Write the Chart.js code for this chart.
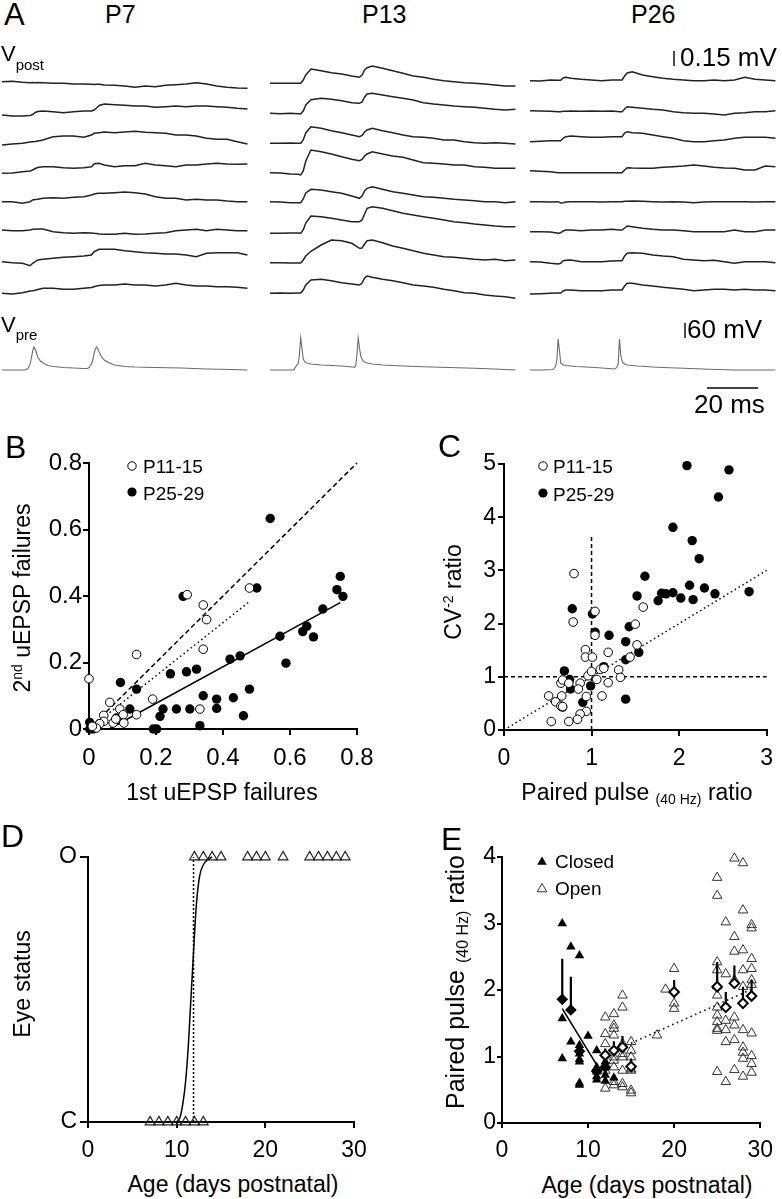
<!DOCTYPE html>
<html><head><meta charset="utf-8"><title>Synaptic development figure</title>
<script src="https://cdn.jsdelivr.net/npm/chart.js@4.4.1/dist/chart.umd.min.js"></script>
<style>
html,body{margin:0;padding:0;background:#fff}
#fig{position:relative;width:782px;height:1199px;overflow:hidden;font-family:"Liberation Sans",Arial,Helvetica,sans-serif;color:#000}
canvas{position:absolute}
.t{position:absolute;line-height:1;white-space:nowrap}
.ctr{transform:translateX(-50%)}
.rot{position:absolute;line-height:1;white-space:nowrap;transform:translate(-50%,-50%) rotate(-90deg)}
</style></head>
<body><div id="fig">
<canvas id="aP7" width="248" height="360" style="left:2px;top:40px"></canvas>
<canvas id="aP13" width="248" height="360" style="left:270px;top:40px"></canvas>
<canvas id="aP26" width="248" height="360" style="left:530px;top:40px"></canvas>
<canvas id="cB" width="390" height="340" style="left:0px;top:440px"></canvas>
<canvas id="cC" width="392" height="340" style="left:390px;top:440px"></canvas>
<canvas id="cD" width="390" height="340" style="left:0px;top:830px"></canvas>
<canvas id="cE" width="392" height="340" style="left:390px;top:830px"></canvas>

<div class="t" style="left:4px;top:-1px;font-size:31px">A</div>
<div class="t" style="left:105px;top:2px;font-size:25px">P7</div>
<div class="t" style="left:362px;top:2px;font-size:25px">P13</div>
<div class="t" style="left:631px;top:2px;font-size:25px">P26</div>
<div class="t" style="left:1px;top:43px;font-size:22px">V<span style="font-size:15px;position:relative;top:9px">post</span></div>
<div class="t" style="left:1px;top:314px;font-size:22px">V<span style="font-size:15px;position:relative;top:8px">pre</span></div>
<div class="t" style="left:680px;top:44px;font-size:26px">0.15 mV</div>
<div class="t" style="left:687px;top:316px;font-size:26px">60 mV</div>
<div class="t" style="left:694px;top:391px;font-size:26px">20 ms</div>

<div class="t" style="left:5px;top:431px;font-size:32px">B</div>
<div class="t" style="left:438px;top:430px;font-size:32px">C</div>
<div class="t" style="left:1px;top:820px;font-size:32px">D</div>
<div class="t" style="left:441px;top:823px;font-size:32px">E</div>

<svg class="t" style="left:126px;top:460px" width="12" height="12"><circle cx="6" cy="6" r="4.2" fill="#fff" stroke="#000" stroke-width="1"/></svg>
<div class="t" style="left:143px;top:457px;font-size:19px">P11-15</div>
<svg class="t" style="left:126px;top:486px" width="12" height="12"><circle cx="6" cy="6" r="4.6" fill="#000"/></svg>
<div class="t" style="left:143px;top:484px;font-size:19px">P25-29</div>

<svg class="t" style="left:537px;top:460px" width="12" height="12"><circle cx="6" cy="6" r="4.2" fill="#fff" stroke="#000" stroke-width="1"/></svg>
<div class="t" style="left:553px;top:457px;font-size:19px">P11-15</div>
<svg class="t" style="left:537px;top:487px" width="12" height="12"><circle cx="6" cy="6" r="4.6" fill="#000"/></svg>
<div class="t" style="left:553px;top:485px;font-size:19px">P25-29</div>

<svg class="t" style="left:535px;top:855px" width="14" height="14"><polygon points="7,1.5 2.2,9.8 11.8,9.8" fill="#000"/></svg>
<div class="t" style="left:555px;top:852px;font-size:19px">Closed</div>
<svg class="t" style="left:535px;top:882px" width="14" height="14"><polygon points="7,1.5 2.2,9.8 11.8,9.8" fill="none" stroke="#333" stroke-width="1"/></svg>
<div class="t" style="left:555px;top:879px;font-size:19px">Open</div>

<div class="t ctr" style="left:222px;top:781px;font-size:23px">1st uEPSP failures</div>
<div class="rot" style="left:22px;top:598px;font-size:23px">2<span style="font-size:14px;position:relative;top:-8px">nd</span> uEPSP failures</div>
<div class="t ctr" style="left:637px;top:781px;font-size:23px">Paired pulse <span style="font-size:14px;position:relative;top:4px">(40 Hz)</span> ratio</div>
<div class="rot" style="left:453px;top:592px;font-size:23px">CV<span style="font-size:14px;position:relative;top:-8px">-2</span> ratio</div>
<div class="t ctr" style="left:233px;top:1173px;font-size:23px">Age (days postnatal)</div>
<div class="rot" style="left:22px;top:984px;font-size:23px">Eye status</div>
<div class="t ctr" style="left:647px;top:1174px;font-size:23px">Age (days postnatal)</div>
<div class="rot" style="left:455px;top:982px;font-size:25px">Paired pulse <span style="font-size:16px;position:relative;top:4px">(40 Hz)</span> ratio</div>
</div>

<script>
// ---------------- Panel A: traces (Vpost in µV, Vpre in mV) ----------------
const timeMs = [0,4,8,11,12,13,14,16,20,24,28,32,35,36,37,38,40,44,48,52,56,60,64,68,72,76,80,84,88,92,96];
const p7Post = [
  [13,17,7,3,5,2,4,3,-3,-2,-10,-9,-12,-14,-13,-12,-20,-23,-30,-43,-30,-37,-23,-17,-10,3,-10,-30,-43,-50,-53],
  [-20,-30,-30,-25,-15,5,15,20,13,3,13,20,20,30,50,75,90,83,77,70,70,57,63,70,63,70,70,63,57,47,40],
  [-20,-10,-3,10,13,15,20,30,63,70,70,57,80,97,100,103,110,103,110,117,107,103,97,80,80,70,47,37,37,13,-10],
  [-3,0,13,20,30,45,55,63,63,53,47,53,63,90,95,97,80,63,73,73,97,80,73,63,80,80,90,97,90,87,90],
  [13,13,-3,13,30,35,37,47,53,47,57,63,80,90,95,97,97,103,110,103,90,63,47,47,30,37,30,30,20,13,13],
  [30,23,23,30,37,37,40,40,13,3,-3,3,0,-3,-5,-10,-13,-13,-3,-13,-10,-3,3,23,30,37,23,37,30,23,23],
  [13,3,-3,-27,-3,13,30,37,47,57,63,70,80,113,125,137,137,137,123,113,103,97,90,90,80,63,97,103,103,103,80],
  [-3,-10,3,20,23,27,35,47,47,37,37,47,55,63,70,75,80,80,90,80,80,70,80,97,80,70,70,63,63,57,47]
];
const p13Post = [
  [-3,-3,-3,-3,-3,30,80,140,123,103,90,70,57,80,130,153,170,147,123,97,70,57,37,23,13,3,-3,-10,-20,-30,-30],
  [-3,-7,-3,-7,-10,20,80,133,147,137,123,103,97,110,160,190,197,180,163,147,130,103,90,80,70,63,57,47,37,30,37],
  [-3,-3,0,-3,-3,30,100,163,147,123,103,80,63,75,110,130,147,123,103,80,63,57,47,30,30,13,3,-3,3,-3,-10],
  [3,0,-10,-13,-20,20,120,230,213,190,163,137,123,135,170,190,213,190,170,157,130,103,97,90,80,80,63,57,47,47,47],
  [13,10,3,3,3,40,100,137,130,113,97,70,47,70,120,147,163,137,113,97,80,63,57,47,37,30,23,13,13,3,13],
  [-3,-3,0,0,-3,30,100,170,163,147,130,113,113,130,190,247,263,247,223,197,180,163,147,130,113,103,90,80,70,63,63],
  [3,3,0,0,0,30,70,117,180,230,223,197,147,150,190,223,230,203,170,147,123,97,80,63,57,47,37,30,37,23,30],
  [-3,0,-3,0,0,30,80,130,137,123,103,90,80,100,150,170,157,137,123,103,80,70,57,37,23,3,-3,-20,-30,-37,-53]
];
const p26Post = [
  [23,20,30,27,27,50,57,47,37,30,23,30,30,30,70,100,113,80,63,47,37,30,23,23,30,23,30,57,37,30,23],
  [23,20,17,13,13,17,17,20,17,20,17,20,13,13,40,63,57,47,37,30,13,3,-3,-3,-10,-20,-3,3,13,13,23],
  [13,17,23,23,23,50,63,70,63,57,57,63,63,63,100,113,103,97,80,63,47,23,13,13,23,30,47,57,57,57,47],
  [23,17,13,3,3,3,3,3,3,3,3,3,3,3,30,53,50,47,47,57,63,70,80,70,57,50,47,30,30,70,63],
  [13,13,10,13,0,3,10,13,13,13,10,13,13,13,17,17,20,17,13,10,13,10,3,10,13,13,13,13,10,13,13],
  [13,13,10,-3,3,20,30,30,23,30,30,37,30,30,50,70,63,47,37,30,30,23,13,13,13,13,30,13,13,30,30],
  [13,10,-3,-10,-3,23,27,30,13,13,13,20,23,23,70,97,103,97,80,70,63,37,30,23,27,13,-3,13,13,13,3],
  [-10,-7,-3,0,0,20,30,30,23,23,23,30,30,30,70,97,97,80,70,57,47,37,23,30,37,37,30,37,30,30,23]
];
const vpreTime = [0,5,9,9.5,10,10.5,11,11.5,12,12.5,13,13.5,14,15,16,18,20,24,28,32,33,33.5,34,34.5,35,35.5,36,36.5,37,37.5,38,39,40,42,44,48,52,60,70,80,90,96];
const p7Pre  = [0,0,0,2,6,12,24,48,76,92,84,68,52,36,28,18,14,10,8,6,6,6,10,16,24,40,64,84,92,84,72,52,40,28,20,14,12,10,8,4,2,0];
const p13Pre = [0,0,0,4,12,20,24,60,128,88,44,34,30,26,24,22,20,18,16,12,11,16,60,128,88,56,44,36,32,30,28,26,24,22,20,18,16,13,10,7,3,0];
const p26Pre = [0,0,2,8,14,40,124,80,28,24,20,19,18,17,16,14,13,11,8,5,4,6,12,24,124,60,36,28,24,22,20,19,18,16,15,12,10,7,3,0,0,0];
const scaleBarPostUv = 150, scaleBarPreMv = 60, scaleBarMs = 20;

// ---------------- Panel B ----------------
const bTicks = [0,0.2,0.4,0.6,0.8];
const bTickLabels = ['0','0.2','0.4','0.6','0.8'];
const bYoungX = [0.00,0.142,0.19,0.293,0.341,0.351,0.341,0.331,0.479,0.062,0.092,0.102,0.142,0.104,0.072,0.044,0.044,0.032,0.022,0.08,0.01];
const bYoungY = [0.151,0.224,0.09,0.404,0.373,0.329,0.24,0.06,0.424,0.08,0.06,0.043,0.043,0.018,0.018,0.041,0.023,0.016,0.003,0.03,0.008];
const bOldX = [0.541,0.75,0.74,0.758,0.501,0.281,0.698,0.65,0.638,0.67,0.57,0.588,0.451,0.421,0.321,0.291,0.243,0.142,0.094,0.341,0.381,0.431,0.381,0.221,0.261,0.301,0.479,0.461,0.212,0.331,0.192,0.202,0.122,0.082,0.002,0.002,0.012];
const bOldY = [0.633,0.459,0.419,0.399,0.424,0.399,0.361,0.309,0.293,0.277,0.279,0.198,0.22,0.21,0.18,0.172,0.166,0.12,0.14,0.1,0.09,0.094,0.062,0.06,0.06,0.06,0.12,0.04,0.038,0.01,0,0,0.06,0.033,0.02,0,0];
const bUnityX = [0,0.8], bUnityY = [0,0.8];
const bYoungFitX = [0.03,0.48], bYoungFitY = [0.024,0.384];
const bOldFitX = [0.06,0.75], bOldFitY = [0.0,0.38];

// ---------------- Panel C ----------------
const cTicksX = [0,1,2,3], cTickLabelsX = ['0','1','2','3'];
const cTicksY = [0,1,2,3,4,5], cTickLabelsY = ['0','1','2','3','4','5'];
const cYoungX = [0.79,0.80,1.04,1.04,0.93,0.93,1.01,1.19,1.50,1.59,1.52,1.44,1.31,1.33,1.19,1.12,1.06,1.10,0.96,0.87,0.85,0.94,0.94,0.87,0.84,0.74,0.54,0.51,0.59,0.65,0.66,0.65,0.67,0.74,0.67,1.00,1.14];
const cYoungY = [2.03,2.94,2.23,1.78,1.51,1.37,1.37,1.46,1.99,2.31,1.60,1.37,1.13,0.99,0.89,0.64,0.95,1.14,1.02,0.88,0.77,0.63,0.35,0.30,0.20,0.16,0.16,0.64,0.53,0.45,0.64,0.88,0.94,0.88,0.44,1.10,1.16];
const cOldX = [2.09,2.57,2.45,1.93,2.15,2.23,1.61,1.52,1.76,1.80,1.85,1.93,2.02,2.12,2.16,2.29,2.41,2.80,0.78,1.01,1.04,1.20,1.43,1.39,1.54,1.39,1.14,1.39,0.99,0.90,0.69,0.75,0.76,0.67];
const cOldY = [4.97,4.89,4.38,3.81,3.56,3.22,2.89,2.52,2.43,2.57,2.56,2.58,2.48,2.72,2.45,2.67,2.56,2.60,2.28,2.18,1.84,1.78,1.94,1.66,1.46,1.32,1.19,0.58,0.83,0.52,1.11,0.95,0.77,0.43];
const cUnityX = [0,3], cUnityY = [0,3];
const cRefHX = [0,3], cRefHY = [1,1];
const cRefVX = [1,1], cRefVY = [0,3.68];

// ---------------- Panel D ----------------
const dTicksX = [0,10,20,30], dTickLabelsX = ['0','10','20','30'];
const dTicksY = [0,1], dTickLabelsY = ['C','O'];
const eyeOpenAge = [12,13,14,15,18,19,20,22,25,26,27,28,29];
const eyeClosedAge = [7,8,9,10,11,12,13];
const dFitX = [10,10.4,10.7,11.0,11.3,11.5,11.7,11.9,12.1,12.3,12.6,13.0,13.5,14.0];
const dFitY = [0,0.02,0.07,0.15,0.28,0.40,0.52,0.64,0.76,0.85,0.93,0.97,0.99,1.0];
const dOnsetX = [11.9,11.9], dOnsetY = [0,1];

// ---------------- Panel E ----------------
const eTicksX = [0,10,20,30], eTickLabelsX = ['0','10','20','30'];
const eTicksY = [0,1,2,3,4], eTickLabelsY = ['0','1','2','3','4'];
const eClosedAge = [7,7,7,8,8,9,9,9,9,9,9,9,9,10,11,11,11,11,11,12,12,12,12,12,13];
const eClosedVal = [3.0,1.57,0.97,2.65,1.22,2.52,1.17,1.1,1.04,0.96,0.92,0.6,0.57,1.31,1.09,0.84,0.77,0.7,0.65,1.03,0.92,0.84,0.72,0.63,0.68];
const eOpenAge = [12,12,12,12,12,13,13,13,13,13,13,13,13,13,14,14,14,14,14,14,14,14,15,15,15,15,15,15,15,18,19,20,20,20,
  25,25,25,25,25,25,25,25,25,25,25,25,26,26,26,26,26,26,27,27,27,27,27,27,27,27,28,28,28,28,28,28,28,28,28,28,29,29,29,29,29,29,29,29,29,29];
const eOpenVal = [1.59,1.34,1.19,0.79,0.52,1.64,1.47,1.42,1.32,0.99,0.94,0.84,0.62,0.57,1.92,1.74,1.19,1.04,0.99,0.79,0.59,0.54,1.22,1.09,0.99,0.81,0.79,0.49,0.45,1.32,2.01,2.32,1.80,1.72,
  3.69,3.42,2.42,2.30,2.06,1.92,1.74,1.62,1.52,1.42,1.39,0.77,3.02,2.24,1.54,1.40,1.22,0.62,3.98,2.80,2.58,2.15,1.59,1.47,1.25,0.80,3.91,3.20,2.60,2.30,2.05,1.40,1.14,1.06,0.97,0.70,2.98,2.93,2.47,2.32,2.15,2.08,1.35,1.01,0.89,0.76];
const eClosedMeanAge = [7,8,9,11,12];
const eClosedMeanVal = [1.86,1.70,1.08,0.78,0.84];
const eClosedMeanErr = [0.61,0.50,0.10,0.06,0.08];
const eOpenMeanAge = [12,13,14,15,20,25,26,27,28,29];
const eOpenMeanVal = [1.02,1.09,1.14,0.85,1.97,2.05,1.74,2.10,1.80,1.91];
const eOpenMeanErr = [0.10,0.14,0.17,0.12,0.18,0.37,0.23,0.27,0.25,0.24];
const eClosedFitX = [7,11.5], eClosedFitY = [1.72,0.77];
const eOpenFitX = [15,29], eOpenFitY = [1.2,2.01];

// ================= drawing =================
const FONT = '"Liberation Sans", Arial, Helvetica, sans-serif';
Chart.defaults.font.family = FONT;
Chart.defaults.color = '#000';
const zip = (xs, ys) => xs.map((x, i) => ({x: x, y: ys[i]}));

// --- Panel A layout (pixels per unit) ---
const A_H = 360;
const ROW_GAP_UV = 300;             // vertical offset between sweeps
const POST_PX_PER_UV = 0.1, POST_ROW0_PX = 43;
const PRE_PX_PER_MV = 0.25, PRE_BASE_PX = 330;
const POST_MAX = POST_ROW0_PX / POST_PX_PER_UV, POST_MIN = POST_MAX - A_H / POST_PX_PER_UV;
const PRE_MAX = PRE_BASE_PX / PRE_PX_PER_MV, PRE_MIN = PRE_MAX - A_H / PRE_PX_PER_MV;

const scaleBarPlugin = {
  id: 'scaleBars',
  afterDraw(chart) {
    const {ctx, scales} = chart;
    const x = scales.x, y = scales.y, y2 = scales.y2;
    ctx.save();
    ctx.strokeStyle = '#000'; ctx.lineWidth = 1.4;
    const lp = y.getPixelForValue(0) - y.getPixelForValue(scaleBarPostUv);
    ctx.beginPath(); ctx.moveTo(144, 26); ctx.lineTo(144, 26 - lp); ctx.stroke();
    const lq = y2.getPixelForValue(0) - y2.getPixelForValue(scaleBarPreMv);
    ctx.beginPath(); ctx.moveTo(155, 298); ctx.lineTo(155, 298 - lq); ctx.stroke();
    const lt = x.getPixelForValue(scaleBarMs) - x.getPixelForValue(0);
    ctx.beginPath(); ctx.moveTo(177, 348); ctx.lineTo(177 + lt, 348); ctx.stroke();
    ctx.restore();
  }
};

function traceChart(id, post, pre, bars) {
  const ds = post.map((arr, r) => ({
    data: timeMs.map((t, i) => ({x: t, y: arr[i] - r * ROW_GAP_UV})),
    yAxisID: 'y', showLine: true, pointRadius: 0, borderColor: '#222', borderWidth: 1.5, tension: 0, clip: false
  }));
  ds.push({
    data: zip(vpreTime, pre), yAxisID: 'y2', showLine: true, pointRadius: 0,
    borderColor: '#6b6b6b', borderWidth: 1.1, tension: 0, clip: false
  });
  return new Chart(document.getElementById(id), {
    type: 'scatter',
    data: {datasets: ds},
    options: {
      responsive: false, animation: false, devicePixelRatio: 1,
      layout: {padding: 0},
      plugins: {legend: {display: false}, tooltip: {enabled: false}},
      scales: {
        x: {type: 'linear', display: false, min: 0, max: 97},
        y: {type: 'linear', display: false, min: POST_MIN, max: POST_MAX},
        y2: {type: 'linear', display: false, min: PRE_MIN, max: PRE_MAX}
      }
    },
    plugins: bars ? [scaleBarPlugin] : []
  });
}
traceChart('aP7', p7Post, p7Pre, false);
traceChart('aP13', p13Post, p13Pre, false);
traceChart('aP26', p26Post, p26Pre, true);

function axisChart(id, o) {
  const tickFont = {family: FONT, size: o.fs};
  const gridOpt = tl => ({display: true, drawOnChartArea: false, drawTicks: true, tickLength: tl, color: '#000', lineWidth: 2});
  return new Chart(document.getElementById(id), {
    type: 'scatter',
    data: {datasets: o.datasets},
    options: {
      responsive: false, animation: false, devicePixelRatio: 1,
      layout: {padding: {top: o.padTop, right: o.padRight, left: 0, bottom: 0}},
      plugins: {legend: {display: false}, tooltip: {enabled: false}},
      scales: {
        x: {
          type: 'linear', min: o.xMin, max: o.xMax,
          afterFit(s) { s.height = o.xH; },
          afterBuildTicks(s) { s.ticks = o.xTicks.map(v => ({value: v})); },
          ticks: {callback: (v, i) => o.xLabels[i], font: tickFont, color: '#000', padding: o.xPad, maxRotation: 0, autoSkip: false},
          grid: gridOpt(o.xTl),
          border: {display: true, color: '#000', width: 2}
        },
        y: {
          type: 'linear', min: o.yMin, max: o.yMax,
          afterFit(s) { s.width = o.yW; },
          afterBuildTicks(s) { s.ticks = o.yTicks.map(v => ({value: v})); },
          ticks: {callback: (v, i) => o.yLabels[i], font: tickFont, color: '#000', padding: o.yPad, autoSkip: false},
          grid: gridOpt(o.yTl),
          border: {display: true, color: '#000', width: 2}
        }
      }
    }
  });
}
const openCircle = d => ({data: d, pointStyle: 'circle', pointRadius: 4.3, pointBorderWidth: 1, pointBorderColor: '#000', pointBackgroundColor: '#fff', showLine: false, clip: false});
const fullCircle = d => ({data: d, pointStyle: 'circle', pointRadius: 4.7, pointBorderWidth: 0, pointBorderColor: '#000', pointBackgroundColor: '#000', showLine: false, clip: false});
const line = (d, dash, w) => ({data: d, showLine: true, pointRadius: 0, borderColor: '#000', borderWidth: w || 1.5, borderDash: dash || [], tension: 0, clip: false});

// Panel B
axisChart('cB', {
  xMin: 0, xMax: 0.8, yMin: 0, yMax: 0.8, xTicks: bTicks, yTicks: bTicks, xLabels: bTickLabels, yLabels: bTickLabels,
  fs: 24, padTop: 23, padRight: 33, yW: 89, xH: 51, xPad: 9, yPad: 1, xTl: 6, yTl: 6,
  datasets: [
    openCircle(zip(bYoungX, bYoungY)),
    fullCircle(zip(bOldX, bOldY)),
    line(zip(bUnityX, bUnityY), [5, 3]),
    line(zip(bYoungFitX, bYoungFitY), [1.5, 3]),
    line(zip(bOldFitX, bOldFitY))
  ]
});

// Panel C
axisChart('cC', {
  xMin: 0, xMax: 3, yMin: 0, yMax: 5, xTicks: cTicksX, yTicks: cTicksY, xLabels: cTickLabelsX, yLabels: cTickLabelsY,
  fs: 23, padTop: 24, padRight: 12, yW: 114, xH: 50, xPad: 9, yPad: 2, xTl: 6, yTl: 6,
  datasets: [
    openCircle(zip(cYoungX, cYoungY)),
    fullCircle(zip(cOldX, cOldY)),
    line(zip(cUnityX, cUnityY), [1.5, 3]),
    line(zip(cRefHX, cRefHY), [4, 3]),
    line(zip(cRefVX, cRefVY), [4, 3])
  ]
});

// Panel D
const hollowTri = d => ({data: d, pointStyle: 'triangle', pointRadius: 5.6, pointBorderWidth: 1.2, pointBorderColor: '#222', pointBackgroundColor: 'rgba(255,255,255,0)', showLine: false, clip: false});
axisChart('cD', {
  xMin: 0, xMax: 30, yMin: 0, yMax: 1, xTicks: dTicksX, yTicks: dTicksY, xLabels: dTickLabelsX, yLabels: dTickLabelsY,
  fs: 23, padTop: 27, padRight: 36, yW: 88, xH: 48, xPad: 9, yPad: 3, xTl: 6, yTl: 8,
  datasets: [
    hollowTri(eyeOpenAge.map(a => ({x: a, y: 1}))),
    hollowTri(eyeClosedAge.map(a => ({x: a, y: 0}))),
    Object.assign(line(zip(dFitX, dFitY)), {cubicInterpolationMode: 'monotone'}),
    line(zip(dOnsetX, dOnsetY), [2, 2])
  ]
});

// Panel E
function errData(ages, vals, errs) {
  const d = [];
  ages.forEach((a, i) => { d.push({x: a, y: vals[i]}, {x: a, y: vals[i] + errs[i]}, {x: a, y: null}); });
  return d;
}
axisChart('cE', {
  xMin: 0, xMax: 30, yMin: 0, yMax: 4, xTicks: eTicksX, yTicks: eTicksY, xLabels: eTickLabelsX, yLabels: eTickLabelsY,
  fs: 23, padTop: 27, padRight: 14, yW: 112, xH: 47, xPad: 9, yPad: 1, xTl: 5, yTl: 5,
  datasets: [
    {data: zip(eClosedMeanAge, eClosedMeanVal), pointStyle: 'rectRot', pointRadius: 4.8, pointBorderWidth: 1.5, pointBorderColor: '#000', pointBackgroundColor: '#000', showLine: false, clip: false},
    {data: zip(eOpenMeanAge, eOpenMeanVal), pointStyle: 'rectRot', pointRadius: 4.8, pointBorderWidth: 2, pointBorderColor: '#000', pointBackgroundColor: '#fff', showLine: false, clip: false},
    Object.assign(line(errData(eClosedMeanAge.concat(eOpenMeanAge), eClosedMeanVal.concat(eOpenMeanVal), eClosedMeanErr.concat(eOpenMeanErr)), [], 2.2), {spanGaps: false}),
    line(zip(eClosedFitX, eClosedFitY), [], 1.6),
    line(zip(eOpenFitX, eOpenFitY), [1.5, 3.5], 1.6),
    {data: zip(eClosedAge, eClosedVal), pointStyle: 'triangle', pointRadius: 5.5, pointBorderWidth: 0, pointBorderColor: '#000', pointBackgroundColor: '#000', showLine: false, clip: false},
    {data: zip(eOpenAge, eOpenVal), pointStyle: 'triangle', pointRadius: 5.5, pointBorderWidth: 1, pointBorderColor: '#333', pointBackgroundColor: 'rgba(255,255,255,0)', showLine: false, clip: false}
  ]
});
</script>
</body></html>
